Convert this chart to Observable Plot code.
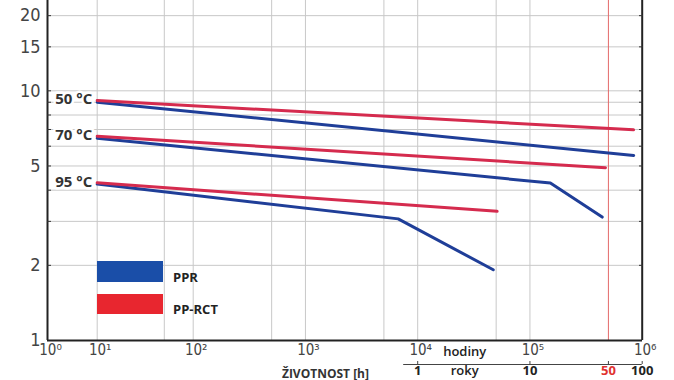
<!DOCTYPE html>
<html><head><meta charset="utf-8">
<script src="https://cdn.jsdelivr.net/npm/d3@7"></script>
<script src="https://cdn.jsdelivr.net/npm/@observablehq/plot@0.6"></script>
<style>
html,body{margin:0;padding:0;background:#fff;}
#wrap{position:relative;width:674px;height:380px;overflow:hidden;}
.sw{position:absolute;left:97px;width:66px;}
.lt{position:absolute;left:173px;font:bold 13px "Open Sans",sans-serif;color:#222;line-height:16px;}
</style></head><body>
<div id="wrap">
  <div class="sw" style="top:261px;height:21px;background:#1a4ea8"></div>
  <div class="sw" style="top:294px;height:20px;background:#e8262f"></div>
  <div class="lt" style="top:269px">PPR</div>
  <div class="lt" style="top:301px">PP-RCT</div>
</div>
<script>
// Data (hours, hoop stress MPa)
const temps = ["50 °C", "70 °C", "95 °C"];
const pprHours  = [[10, 8.4e5], [10, 1.52e5, 4.4e5], [10, 6.7e3, 4.71e4]];
const pprStress = [[9.0, 5.51], [6.46, 4.27, 3.12], [4.23, 3.07, 1.92]];
const rctHours  = [[10, 8.37e5], [10, 4.71e5], [10, 5.1e4]];
const rctStress = [[9.15, 6.98], [6.58, 4.92], [4.28, 3.29]];
const seriesNames = ["PPR", "PP-RCT"];
const seriesColors = ["#1f3e98", "#d52b4e"];

// Axes / ticks
const xTicks = [1, 10, 100, 1e3, 1e4, 1e5, 1e6];
const xTickLabels = ["10⁰", "10¹", "10²", "10³", "10⁴", "10⁵", "10⁶"];
const xGrid = [10, 50, 100, 500, 1e3, 5e3, 1e4, 5e4, 1e5];
const yTicks = [1, 2, 5, 10, 15, 20];
const yGrid = [2, 3, 4, 5, 6, 7, 8, 9, 10, 15, 20];
const yearLabels = ["1", "10", "50", "100"];
const yearHours = [1e4, 1e5, 5e5, 1e6];
const yearAxisSpan = [7500, 1e6];
const highlightHours = [5e5];
const unitLabels = ["hodiny", "roky"];
const axisTitle = ["ŽIVOTNOST [h]"];

const rows = [];
temps.forEach((t, i) => {
  pprHours[i].forEach((h, j) => rows.push({series: "PPR", temp: t, h, s: pprStress[i][j]}));
  rctHours[i].forEach((h, j) => rows.push({series: "PP-RCT", temp: t, h, s: rctStress[i][j]}));
});
const tempLabels = temps.map((t, i) => ({t, h: rctHours[i][0], s: rctStress[i][0]}));

const F = '"Liberation Sans Narrow","DejaVu Sans Condensed",sans-serif';
const boldText = {fontSize: 13, fontWeight: "bold", fontFamily: "Open Sans", fill: "#222"};
const chart = Plot.plot({
  width: 674, height: 380,
  marginLeft: 47, marginRight: 32, marginTop: 0, marginBottom: 40,
  style: {background: "white", overflow: "visible", fontFamily: F},
  x: {type: "log", domain: [1, 10, 100, 1e6], range: [47, 96.7, 192.7, 641.7], axis: null},
  y: {type: "log", domain: [1, 23], axis: null},
  color: {domain: seriesNames, range: seriesColors},
  marks: [
    Plot.ruleX(xGrid, {stroke: "#c8c8c8", strokeWidth: 1}),
    Plot.ruleY(yGrid, {stroke: "#c8c8c8", strokeWidth: 1}),
    Plot.ruleX(highlightHours, {stroke: "#e46a6a", strokeWidth: 1}),
    Plot.line(rows.filter(d => d.series === "PPR"), {x: "h", y: "s", z: "temp", stroke: "series", strokeWidth: 3}),
    Plot.line(rows.filter(d => d.series === "PP-RCT"), {x: "h", y: "s", z: "temp", stroke: "series", strokeWidth: 3}),
    Plot.ruleX([1, 1e6], {stroke: "#222", strokeWidth: 2}),
    Plot.ruleY([1], {stroke: "#222", strokeWidth: 2}),
    Plot.axisY(yGrid, {anchor: "left", label: null, tickSize: -4, tickFormat: () => "", stroke: "#333"}),
    Plot.axisY(yGrid, {anchor: "right", label: null, tickSize: -4, tickFormat: () => "", stroke: "#333"}),
    Plot.text(yTicks, {y: d => d, text: d => String(d), frameAnchor: "left", textAnchor: "end", dx: -7, fontSize: 18, fill: "#444"}),
    Plot.text(xTicks, {x: d => d, text: (d, i) => xTickLabels[i], frameAnchor: "bottom", dy: 14, dx: 3, fontSize: 15, fill: "#444"}),
    Plot.text(tempLabels, {x: "h", y: "s", text: "t", textAnchor: "end", dx: -5, dy: -1, fontSize: 15, fontWeight: "bold", fontFamily: "Open Sans", fill: "#333", stroke: "white", strokeWidth: 5}),
    Plot.ruleY([1], {x1: yearAxisSpan[0], x2: yearAxisSpan[1], dy: 24, stroke: "#444"}),
    Plot.axisX(yearHours, {anchor: "bottom", label: null, tickSize: -3, dy: 24, tickFormat: () => "", stroke: "#444"}),
    Plot.text(yearLabels, {...boldText, x: (d, i) => yearHours[i], text: d => d, frameAnchor: "bottom", dy: 34, fill: d => d === "50" ? "#e0322f" : "#222"}),
    Plot.text(unitLabels.slice(0, 1), {...boldText, x: 1e4, text: d => d, frameAnchor: "bottom", dy: 15, dx: 47, fontWeight: 600}),
    Plot.text(unitLabels.slice(1), {...boldText, x: 1e4, text: d => d, frameAnchor: "bottom", dy: 34, dx: 47, fontWeight: 600}),
    Plot.text(axisTitle, {...boldText, x: 1e3, text: d => d, frameAnchor: "bottom", dy: 37, dx: 20, fontSize: 12, fill: "#333"})
  ]
});
document.getElementById("wrap").prepend(chart);
chart.style.position = "absolute"; chart.style.left = "0"; chart.style.top = "0";
</script>
</body></html>
